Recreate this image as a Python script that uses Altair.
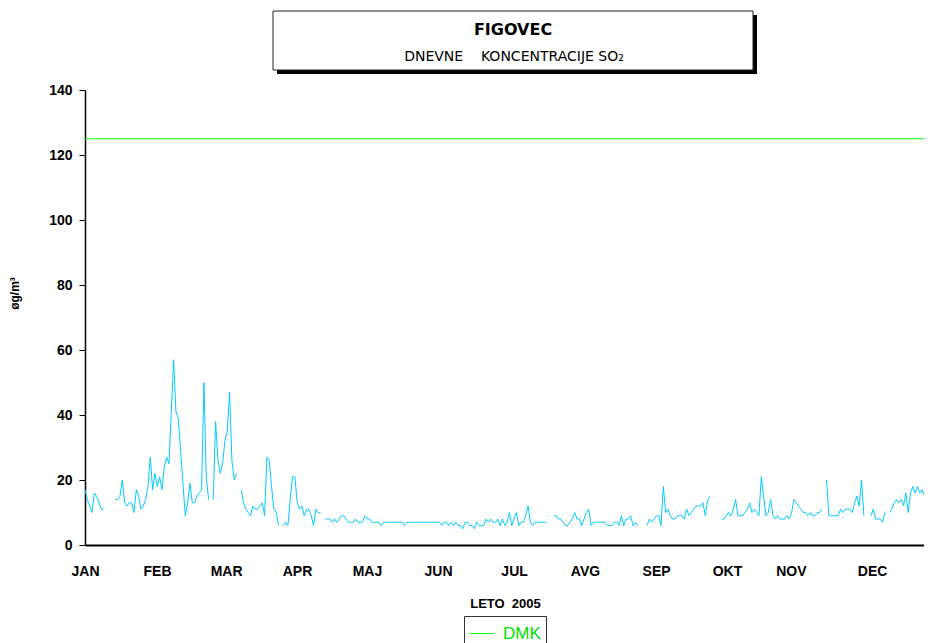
import altair as alt
import pandas as pd

N = None
# daily SO2 concentrations (µg/m3), 2005, one list per month (None = missing day)
jan = [17, 14, 12, 10, 16, 15, 13, 11, 11, N, N, N, N, 14, 14, 15, 20, 13, 12, 13, 13, 10, 17, 15, 11, 12, 14, 18, 27, 17, 22]
feb = [18, 21, 17, 24, 27, 25, 41, 57, 41, 39, 29, 19, 9, 13, 19, 13, 13, 15, 16, 17, 50, 21, 14, N, 14, 38, 26, 22]
mar = [25, 32, 35, 47, 26, 20, 22, N, 17, 13, 11, 10, 9, 12, 11, 11, 12, 13, 9, 27, 26, 18, 11, 10, 6, N, 6, 7, 6, 14, 21]
apr = [21, 13, 11, 12, 9, 11, 11, 9, 6, 11, 10, 10, N, 8, 8, 8, 7, 8, 7, 8, 9, 9, 8, 7, 7, 7, 8, 7, 7, 7]
maj = [9, 8, 8, 7, 7, 7, 7, 6, 7, 7, 7, 7, 7, 7, 7, 7, 7, 6, 7, 7, 7, 7, 7, 7, 7, 7, 7, 7, 7, 7, 7]
jun = [7, 7, 6, 7, 7, 6, 7, 6, 7, 6, 6, 5, 7, 7, 6, 6, 5, 7, 6, 6, 6, 8, 7, 8, 7, 7, 8, 6, 8, 6]
jul = [7, 10, 6, 8, 10, 6, 7, 7, 9, 12, 7, 6, 7, 7, 7, 7, 7, 7, N, N, 9, 9, 8, 8, 7, 6, 6, 7, 8, 10, 8]
avg = [8, 6, 8, 10, 11, 6, 7, 7, 7, 7, 7, 7, 6, 6, 6, 7, 7, 6, 9, 6, 8, 8, 9, 6, 7, 6, N, N, N, 6, 8]
sep = [7, 8, 9, 9, 6, 18, 10, 11, 9, 8, 8, 9, 9, 9, 8, 11, 9, 10, 11, 12, 12, 12, 13, 9, 14, 15, N, N, N, N]
okt = [8, 8, 9, 10, 9, 11, 14, 9, 9, 9, 10, 11, 13, 10, 11, 10, 9, 21, 15, 9, 10, 14, 9, 8, 9, 8, 8, 8, 9, 8, 10]
nov = [14, 13, 12, 11, 10, 10, 9, 10, 9, 9, 10, 10, 11, N, 20, 9, 9, 9, 9, 9, 11, 10, 11, 11, 11, 10, 13, 15, 12, 20]
dec = [9, N, N, 9, 11, 8, 8, 8, 7, 10, N, 10, 11, 13, 14, 13, 14, 12, 16, 10, 16, 18, 16, 18, 16, 17, 15, 13, 14, 11, 11]

months = ["JAN", "FEB", "MAR", "APR", "MAJ", "JUN", "JUL", "AVG", "SEP", "OKT", "NOV", "DEC"]
month_label_pos = [0, 30.9, 60.5, 90.9, 120.9, 151.4, 184.0, 214.4, 244.9, 275.3, 302.7, 337.5]
y_ticks = [0, 20, 40, 60, 80, 100, 120, 140]
dmk_limit = [125]
dmk_name = ["DMK"]

values = jan + feb + mar + apr + maj + jun + jul + avg + sep + okt + nov + dec
df = pd.DataFrame({
    "day": list(range(len(values))),
    "so2": [float("nan") if v is None else float(v) for v in values],
})

FONT = "Liberation Sans"
label_expr = f"{months}[indexof({month_label_pos}, datum.value)]"

PLOT_W = 839
PX_PER_DAY = 2.332

line = alt.Chart(df).mark_line(
    color="#00CCFF", strokeWidth=1, clip=True, invalid="break-paths-show-domains"
).encode(
    x=alt.X("day:Q",
            scale=alt.Scale(domain=[0, PLOT_W / PX_PER_DAY], nice=False, zero=False),
            axis=alt.Axis(values=month_label_pos, labelExpr=label_expr, ticks=False, grid=False,
                          domainColor="black", domainWidth=2,
                          labelFont=FONT, labelFontWeight="bold", labelFontSize=14, labelColor="black",
                          labelPadding=19, labelFlush=False, labelOverlap=False,
                          title="LETO\u00a0 2005", titleFont=FONT, titleFontSize=13, titleFontWeight="bold",
                          titleColor="black", titleX=420, titleY=58, titleBaseline="middle",
                          titleAlign="center")),
    y=alt.Y("so2:Q",
            scale=alt.Scale(domain=[0, 140], nice=False),
            axis=alt.Axis(values=y_ticks, grid=False, tickSize=6, tickColor="black", tickWidth=1,
                          domainColor="black", domainWidth=1.5,
                          labelFont=FONT, labelFontWeight="bold", labelFontSize=14, labelColor="black",
                          labelPadding=7,
                          title="øg/m³", titleFont=FONT, titleFontSize=12, titleFontWeight="bold",
                          titleColor="black", titleAngle=270, titleX=-71, titleY=203,
                          titleAlign="center", titleBaseline="middle")),
)

rule = alt.Chart(pd.DataFrame({"series": dmk_name, "so2": dmk_limit})).mark_rule(strokeWidth=1).encode(
    y=alt.Y("so2:Q"),
    color=alt.Color("series:N",
                    scale=alt.Scale(domain=dmk_name, range=["#00FF00"]),
                    legend=alt.Legend(title=None, orient="none", legendX=379, legendY=526,
                                      direction="horizontal", strokeColor="#333333", fillColor="white",
                                      padding=5, cornerRadius=0, symbolType="stroke", symbolSize=576,
                                      symbolStrokeWidth=1, labelFont=FONT, labelFontSize=17,
                                      labelColor="#00E000", labelOffset=9)),
)

one = pd.DataFrame({"k": [0]})
shadow = alt.Chart(one).mark_rect(color="black").encode(
    x=alt.value(192), x2=alt.value(672), y=alt.value(-75), y2=alt.value(-16))
box = alt.Chart(one).mark_rect(fill="white", stroke="#222222", strokeWidth=1).encode(
    x=alt.value(188), x2=alt.value(668), y=alt.value(-79), y2=alt.value(-20))
t1 = alt.Chart(one).mark_text(text="FIGOVEC", font="DejaVu Sans", fontWeight="bold", fontSize=16,
                              align="center", baseline="middle", color="black").encode(
    x=alt.value(428), y=alt.value(-60))
t2 = alt.Chart(one).mark_text(text="DNEVNE\u00a0\u00a0\u00a0 KONCENTRACIJE SO₂", font="DejaVu Sans",
                              fontSize=14, align="center", baseline="middle", color="black").encode(
    x=alt.value(429), y=alt.value(-33))

chart = alt.layer(shadow, box, t1, t2, rule, line).properties(
    width=PLOT_W, height=455,
    padding={"left": 77, "top": 82, "right": 0, "bottom": 98},
    autosize=alt.AutoSizeParams(type="none"),
).configure(font=FONT, background="white").configure_view(stroke=None)

chart.save("out.html", embed_options={"renderer": "svg", "actions": False})
